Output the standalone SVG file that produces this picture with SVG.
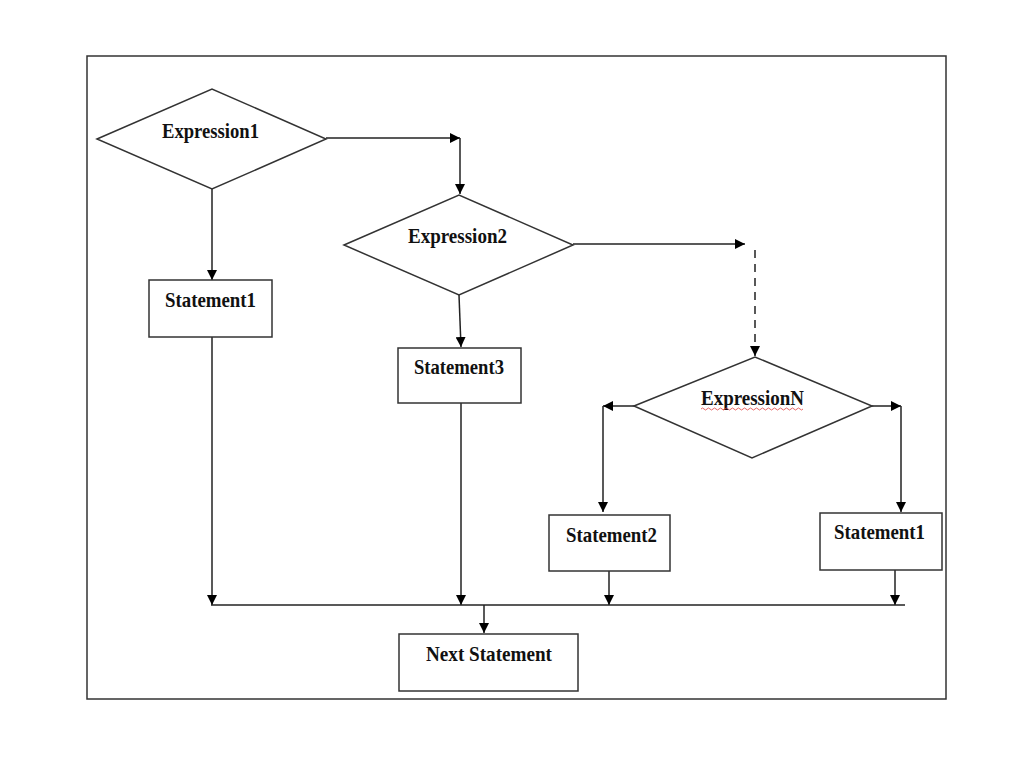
<svg xmlns="http://www.w3.org/2000/svg" width="1024" height="768" viewBox="0 0 1024 768">
  <defs>
    <marker id="arr" viewBox="0 0 10 10" refX="10" refY="5" markerWidth="10" markerHeight="10" markerUnits="userSpaceOnUse" orient="auto">
      <path d="M0,0 L10,5 L0,10 z" fill="#000"/>
    </marker>
    <style>
      .shape { fill: #fff; stroke: #333; stroke-width: 1.5; }
      .lbl { font-family: "Liberation Serif", "Times New Roman", serif; font-weight: bold; font-size: 21.5px; fill: #111; }
      .con { fill: none; stroke: #222; stroke-width: 1.5; }
      .arrow { marker-end: url(#arr); }
    </style>
  </defs>
  <rect width="1024" height="768" fill="#fff"/>
  <rect x="87" y="56" width="859" height="643" fill="none" stroke="#333" stroke-width="1.5"/>

  <g id="connectors">
    <polyline class="con arrow" points="326,138 460,138"/>
    <polyline class="con arrow" points="460,138 460,194"/>
    <polyline class="con arrow" points="212,189 212,280"/>
    <polyline class="con arrow" points="459,295 461,347"/>
    <polyline class="con arrow" points="573,244 745,244"/>
    <line class="con arrow" x1="755" y1="250" x2="755" y2="356" stroke-dasharray="8,6"/>
    <polyline class="con arrow" points="634,406 603,406"/>
    <polyline class="con arrow" points="603,406 603,512"/>
    <polyline class="con arrow" points="872,406 901,406"/>
    <polyline class="con arrow" points="901,406 901,512"/>
    <polyline class="con arrow" points="212,337 212,605"/>
    <polyline class="con arrow" points="461,403 461,605"/>
    <polyline class="con arrow" points="609,571 609,605"/>
    <polyline class="con arrow" points="895,570 895,605"/>
    <line class="con" x1="211" y1="605" x2="905" y2="605" stroke="#555" stroke-width="2"/>
    <polyline class="con arrow" points="484,605 484,633"/>
  </g>

  <g id="expression1">
    <polygon class="shape" points="97,139 212,89 326,139 212,189"/>
    <text class="lbl" x="162" y="138" textLength="97" lengthAdjust="spacingAndGlyphs">Expression1</text>
  </g>
  <g id="expression2">
    <polygon class="shape" points="344,245 459,195 573,245 459,295"/>
    <text class="lbl" x="408" y="243" textLength="99" lengthAdjust="spacingAndGlyphs">Expression2</text>
  </g>
  <g id="expressionN">
    <polygon class="shape" points="634,406 755,357 872,406 752,458"/>
    <text class="lbl" x="701" y="405" textLength="103" lengthAdjust="spacingAndGlyphs">ExpressionN</text>
    <path d="M701,409 q1.5,-2 3,0 t3,0 t3,0 t3,0 t3,0 t3,0 t3,0 t3,0 t3,0 t3,0 t3,0 t3,0 t3,0 t3,0 t3,0 t3,0 t3,0 t3,0 t3,0 t3,0 t3,0 t3,0 t3,0 t3,0 t3,0 t3,0 t3,0 t3,0 t3,0 t3,0 t3,0 t3,0 t3,0 t3,0" fill="none" stroke="#e04040" stroke-width="0.8"/>
  </g>
  <g id="statement1-left">
    <rect class="shape" x="149" y="280" width="123" height="57"/>
    <text class="lbl" x="165" y="307" textLength="91" lengthAdjust="spacingAndGlyphs">Statement1</text>
  </g>
  <g id="statement3">
    <rect class="shape" x="398" y="348" width="123" height="55"/>
    <text class="lbl" x="414" y="374" textLength="90" lengthAdjust="spacingAndGlyphs">Statement3</text>
  </g>
  <g id="statement2">
    <rect class="shape" x="549" y="515" width="121" height="56"/>
    <text class="lbl" x="566" y="542" textLength="91" lengthAdjust="spacingAndGlyphs">Statement2</text>
  </g>
  <g id="statement1-right">
    <rect class="shape" x="820" y="513" width="122" height="57"/>
    <text class="lbl" x="834" y="539" textLength="91" lengthAdjust="spacingAndGlyphs">Statement1</text>
  </g>
  <g id="next-statement">
    <rect class="shape" x="399" y="634" width="179" height="57"/>
    <text class="lbl" x="426" y="661" textLength="126" lengthAdjust="spacingAndGlyphs">Next Statement</text>
  </g>
</svg>
